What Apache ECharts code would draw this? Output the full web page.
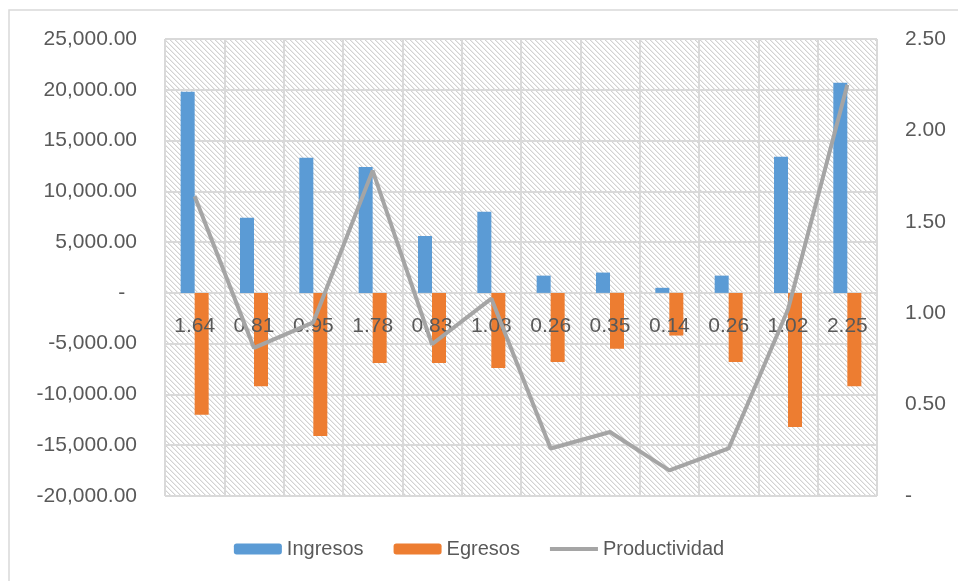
<!DOCTYPE html>
<html>
<head>
<meta charset="utf-8">
<script src="https://cdn.jsdelivr.net/npm/echarts@6/dist/echarts.min.js"></script>
<style>
    html, body { margin: 0; padding: 0; background: #fff; }
    #chart { width: 958px; height: 581px; }
</style>
</head>
<body>
<div id="chart"></div>
<script>
// categories are the productivity ratios shown on the axis
var categories = ['1.64', '0.81', '0.95', '1.78', '0.83', '1.08', '0.26', '0.35', '0.14', '0.26', '1.02', '2.25'];
var ingresos = [19800, 7400, 13300, 12400, 5600, 8000, 1700, 2000, 500, 1700, 13400, 20700];
var egresos = [-12000, -9200, -14100, -6900, -6900, -7400, -6800, -5500, -4200, -6800, -13200, -9200];
var productividad = [1.64, 0.81, 0.95, 1.78, 0.83, 1.08, 0.26, 0.35, 0.14, 0.26, 1.02, 2.25];

var FONT = 'Liberation Sans';
var TEXT = '#595959';
var GRID = '#d9d9d9';

var gridTop = 39, gridH = 457;
var yMin = -20000, yMax = 25000;
// category labels sit on the zero line, so shift the axis up from the bottom
var zeroOffset = -gridH * (0 - yMin) / (yMax - yMin);

// diagonal hatch for the plot area
function hatch() {
    var n = 5;
    var c = document.createElement('canvas');
    c.width = n; c.height = n;
    var ctx = c.getContext('2d');
    var img = ctx.createImageData(n, n);
    for (var y = 0; y < n; y++) {
        for (var x = 0; x < n; x++) {
            var i = (y * n + x) * 4;
            var d = (x - y + n) % n;
            var v = d === 0 ? 0xd2 : (d === 1 ? 0xec : 0xff);
            img.data[i] = v; img.data[i + 1] = v; img.data[i + 2] = v; img.data[i + 3] = 255;
        }
    }
    ctx.putImageData(img, 0, 0);
    return c;
}

function money(v) {
    if (v === 0) return '-  ';
    return v.toLocaleString('en-US', { minimumFractionDigits: 2, maximumFractionDigits: 2 });
}

var chart = echarts.init(document.getElementById('chart'));
chart.setOption({
    animation: false,
    backgroundColor: '#fff',
    textStyle: { fontFamily: FONT },
    graphic: [{
        type: 'rect',
        shape: { x: 9, y: 10, width: 1000, height: 700 },
        style: { fill: 'none', stroke: GRID, lineWidth: 1.5 },
        silent: true
    }],
    grid: {
        left: 165, top: gridTop, width: 712, height: gridH,
        show: true,
        borderWidth: 0,
        backgroundColor: { image: hatch(), repeat: 'repeat' }
    },
    legend: {
        top: 534,
        left: 'center',
        itemWidth: 48,
        itemHeight: 11,
        itemGap: 30,
        textStyle: { fontSize: 20, color: TEXT, fontFamily: FONT },
        data: ['Ingresos', 'Egresos', {
            name: 'Productividad',
            icon: 'path://M0,0 H48 V4 H0 Z'
        }]
    },
    xAxis: [{
        // grid lines only, behind the bars
        type: 'category',
        data: categories,
        axisLine: { show: false, onZero: false },
        axisTick: { show: false },
        axisLabel: { show: false },
        splitLine: { show: true, lineStyle: { color: GRID, width: 2 } }
    }, {
        // labels on the zero line, above the bars, below the line
        type: 'category',
        data: categories,
        position: 'bottom',
        offset: zeroOffset,
        z: 3,
        axisLine: { show: false, onZero: false },
        axisTick: { show: false },
        splitLine: { show: false },
        axisLabel: { fontSize: 21, color: TEXT, margin: 23, fontFamily: FONT }
    }],
    yAxis: [{
        type: 'value',
        min: yMin, max: yMax, interval: 5000,
        axisLine: { show: false },
        axisTick: { show: false },
        axisLabel: { fontSize: 21, color: TEXT, margin: 28, formatter: money, fontFamily: FONT },
        splitLine: { lineStyle: { color: GRID, width: 2 } }
    }, {
        type: 'value',
        min: 0, max: 2.5, interval: 0.5,
        axisLine: { show: false },
        axisTick: { show: false },
        splitLine: { show: false },
        axisLabel: {
            fontSize: 21, color: TEXT, margin: 28, fontFamily: FONT,
            formatter: function (v) { return v === 0 ? '-' : v.toFixed(2); }
        }
    }],
    series: [{
        name: 'Ingresos',
        type: 'bar',
        data: ingresos,
        barWidth: 14,
        barGap: '0%',
        itemStyle: { color: '#5b9bd5' }
    }, {
        name: 'Egresos',
        type: 'bar',
        data: egresos,
        barWidth: 14,
        barGap: '0%',
        itemStyle: { color: '#ed7d31' }
    }, {
        name: 'Productividad',
        type: 'line',
        yAxisIndex: 1,
        data: productividad,
        symbol: 'none',
        lineStyle: { color: '#a5a5a5', width: 4 },
        itemStyle: { color: '#a5a5a5' },
        z: 4
    }]
});
</script>
</body>
</html>
